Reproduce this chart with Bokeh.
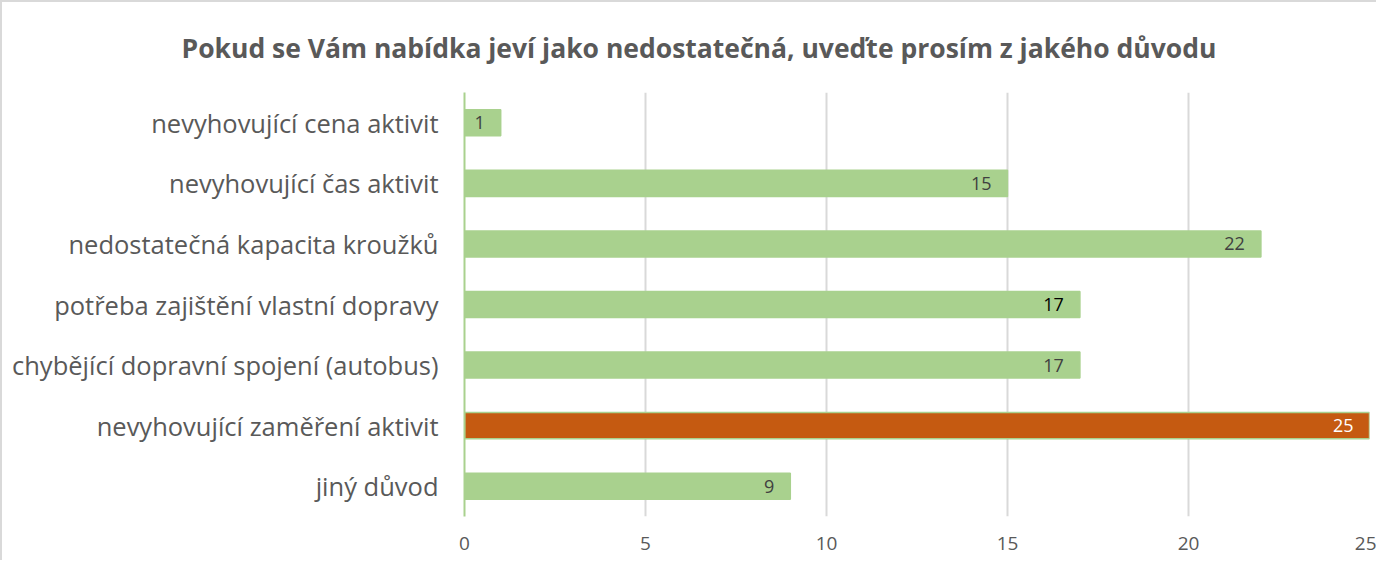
from bokeh.plotting import figure
from bokeh.models import ColumnDataSource, LabelSet, Range1d, FixedTicker, FactorRange
from bokeh.core.properties import value
from bokeh.embed import file_html
from bokeh.resources import INLINE

title_text = "Pokud se Vám nabídka jeví jako nedostatečná, uveďte prosím z jakého důvodu"
categories = [
    "nevyhovující cena aktivit",
    "nevyhovující čas aktivit",
    "nedostatečná kapacita kroužků",
    "potřeba zajištění vlastní dopravy",
    "chybějící dopravní spojení (autobus)",
    "nevyhovující zaměření aktivit",
    "jiný důvod",
]
values = [1, 15, 22, 17, 17, 25, 9]
x_ticks = [0, 5, 10, 15, 20, 25]
highlight = "nevyhovující zaměření aktivit"

GREEN = "#A9D18E"
ORANGE = "#C55A11"
fill = [ORANGE if c == highlight else GREEN for c in categories]
label_color = []
for c in categories:
    if c == highlight:
        label_color.append("#FFFFFF")
    elif c == "potřeba zajištění vlastní dopravy":
        label_color.append("#000000")
    else:
        label_color.append("#404040")

src = ColumnDataSource(dict(cat=categories, val=values, fill=fill,
                            lab=[str(v) for v in values], lc=label_color))

FONT = "Open Sans"
p = figure(width=1376, height=560, output_backend="svg", toolbar_location=None,
           y_range=FactorRange(*list(reversed(categories))),
           x_range=Range1d(0, 25),
           min_border_left=462, min_border_right=9, min_border_top=90, min_border_bottom=46)
p.styles = {"border-left": "2px solid #d9d9d9", "border-top": "2px solid #d9d9d9"}
p.outline_line_color = None
p.background_fill_color = "white"

p.title.text = title_text
p.title.text_font = FONT
p.title.text_font_size = "26.5px"
p.title.text_font_style = "bold"
p.title.text_color = "#595959"
p.title.align = "left"
p.title.vertical_align = "top"
p.title.offset = -283
p.title.standoff = 50

p.hbar(y="cat", right="val", left=0, height=0.43, fill_color="fill",
       line_color=GREEN, line_width=1.5, source=src)

labels = LabelSet(x="val", y="cat", text="lab", source=src, text_align="right",
                  text_baseline="middle", x_offset=-16, text_color="lc",
                  text_font_size="18px", text_font=value(FONT))
p.add_layout(labels)

p.xaxis.ticker = FixedTicker(ticks=x_ticks)
p.xaxis.axis_line_color = None
p.xaxis.major_tick_line_color = None
p.xaxis.minor_tick_line_color = None
p.xaxis.major_label_text_font = FONT
p.xaxis.major_label_text_font_size = "19px"
p.xaxis.major_label_text_color = "#595959"
p.xaxis.major_label_standoff = 14

p.yaxis.axis_line_color = GREEN
p.yaxis.axis_line_width = 2
p.yaxis.major_tick_line_color = None
p.yaxis.minor_tick_line_color = None
p.yaxis.major_label_text_font = FONT
p.yaxis.major_label_text_font_size = "25.5px"
p.yaxis.major_label_text_color = "#595959"
p.yaxis.major_label_standoff = 20

p.xgrid.grid_line_color = "#d9d9d9"
p.xgrid.grid_line_width = 2
p.ygrid.grid_line_color = None

open("out.html", "w").write(file_html(p, INLINE))
